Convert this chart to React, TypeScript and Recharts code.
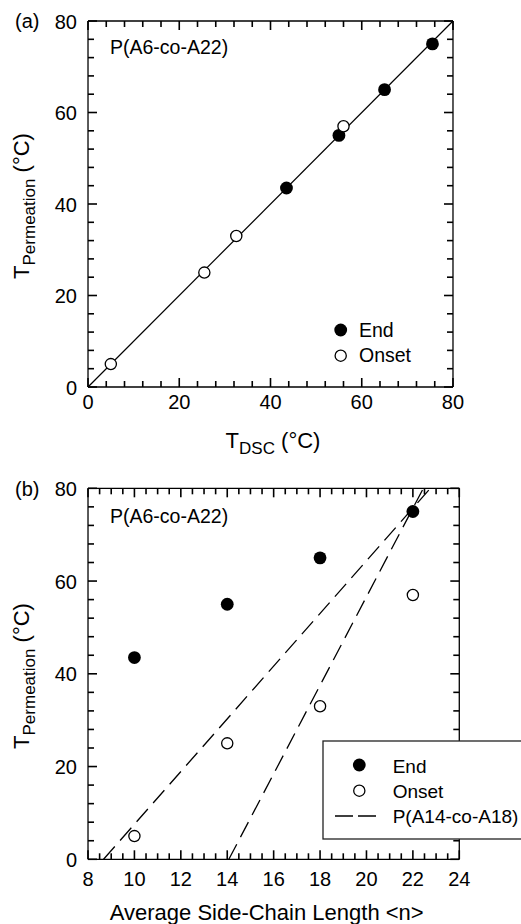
import React from "react";
import { ReferenceLine, Scatter, ScatterChart, XAxis, YAxis } from "recharts";

const FONT = "'Liberation Sans', Arial, Helvetica, sans-serif";

// panel (a): T_DSC vs T_Permeation
const endDsc = [43.5, 55, 65, 75.5];
const endPerm = [43.5, 55, 65, 75];
const onsetDsc = [5, 25.5, 32.5, 56];
const onsetPerm = [5, 25, 33, 57];

// panel (b): side-chain length
const sideChain = [10, 14, 18, 22];

const parityLine = [
  { x: 0, y: 0 },
  { x: 80, y: 80 },
];
const copolyLines = [
  [
    { x: 8.67, y: 0 },
    { x: 22.75, y: 80 },
  ],
  [
    { x: 14.07, y: 0 },
    { x: 22.45, y: 80 },
  ],
];

const tempTicks = [0, 20, 40, 60, 80];
const tempMinor = [0, 4, 8, 12, 16, 20, 24, 28, 32, 36, 40, 44, 48, 52, 56, 60, 64, 68, 72, 76, 80];
const nTicks = [8, 10, 12, 14, 16, 18, 20, 22, 24];
const nMinor = [
  8, 8.5, 9, 9.5, 10, 10.5, 11, 11.5, 12, 12.5, 13, 13.5, 14, 14.5, 15, 15.5, 16, 16.5, 17, 17.5, 18,
  18.5, 19, 19.5, 20, 20.5, 21, 21.5, 22, 22.5, 23, 23.5, 24,
];

const frame = { stroke: "#000", strokeWidth: 1.3 };
// axes need a non-zero size to draw; keep it tiny so they all sit on the frame
const THIN = 0.01;

const FilledDot = (p: any) => <circle cx={p.cx} cy={p.cy} r={6.4} fill="#000" />;
const OpenDot = (p: any) => (
  <circle cx={p.cx} cy={p.cy} r={5.6} fill="#fff" stroke="#000" strokeWidth={1.3} />
);

// tick labels only (bottom / left)
function makeLabel(side: string, majors: number[], offset: number) {
  return (p: any) => {
    const v = p.payload.value;
    if (!majors.includes(v)) return <g />;
    const x = Number(p.x);
    const y = Number(p.y);
    return side === "bottom" ? (
      <text x={x} y={y + offset} textAnchor="middle" fontSize={20} fontFamily={FONT} fill="#000">{v}</text>
    ) : (
      <text x={x - offset} y={y + 7.6} textAnchor="end" fontSize={20} fontFamily={FONT} fill="#000">{v}</text>
    );
  };
}

// inward tick marks on all four sides, laid out in data units through the chart scales
function tickMarks(xDom: number[], xMajor: number[], xMinor: number[], plotW: number, plotH: number) {
  const ux = (xDom[1] - xDom[0]) / plotW;
  const uy = 80 / plotH;
  const segs: { x: number; y: number }[][] = [];
  xMinor.forEach((v) => {
    const len = xMajor.includes(v) ? 9 : 6;
    segs.push([{ x: v, y: 0 }, { x: v, y: len * uy }]);
    segs.push([{ x: v, y: 80 }, { x: v, y: 80 - len * uy }]);
  });
  tempMinor.forEach((v) => {
    const len = tempTicks.includes(v) ? 9 : 6;
    segs.push([{ x: xDom[0], y: v }, { x: xDom[0] + len * ux, y: v }]);
    segs.push([{ x: xDom[1], y: v }, { x: xDom[1] - len * ux, y: v }]);
  });
  return segs.map((s, i) => (
    <ReferenceLine key={`tk${i}`} xAxisId="main" yAxisId="main" segment={s} stroke="#000"
      strokeWidth={1.6} ifOverflow="visible" />
  ));
}

function frameAxes(xDomain: number[], xMajor: number[], xLabelOffset: number) {
  return [
    <XAxis key="xb" xAxisId="main" dataKey="x" type="number" domain={xDomain}
      ticks={xMajor} interval={0} height={THIN} tickSize={0} tickMargin={0} tickLine={false}
      axisLine={frame} tick={makeLabel("bottom", xMajor, xLabelOffset)} />,
    <XAxis key="xt" xAxisId="top" orientation="top" type="number" domain={xDomain}
      ticks={xMajor} interval={0} height={THIN} tickLine={false} axisLine={frame} tick={false} />,
    <YAxis key="yl" yAxisId="main" dataKey="y" type="number" domain={[0, 80]}
      ticks={tempTicks} interval={0} width={THIN} tickSize={0} tickMargin={0} tickLine={false}
      axisLine={frame} tick={makeLabel("left", tempTicks, 11)} />,
    <YAxis key="yr" yAxisId="right" orientation="right" type="number" domain={[0, 80]}
      ticks={tempTicks} interval={0} width={THIN} tickLine={false} axisLine={frame} tick={false} />,
  ];
}

export default function App() {
  const endA = endDsc.map((x, i) => ({ x, y: endPerm[i] }));
  const onsetA = onsetDsc.map((x, i) => ({ x, y: onsetPerm[i] }));
  const endB = sideChain.map((x, i) => ({ x, y: endPerm[i] }));
  const onsetB = sideChain.map((x, i) => ({ x, y: onsetPerm[i] }));

  const marginA = { top: 21, right: 68, bottom: 75, left: 88 };
  const marginB = { top: 26.3, right: 61.7, bottom: 64.7, left: 88 };

  return (
    <div style={{ position: "absolute", left: 0, top: 0, width: 521, height: 924, background: "#fff", overflow: "hidden" }}>
      <div style={{ position: "absolute", left: 0, top: 0 }}>
        <ScatterChart width={521} height={462} margin={marginA}>
          {frameAxes([0, 80], tempTicks, 22.3)}
          {tickMarks([0, 80], tempTicks, tempMinor, 521 - 88 - 68, 462 - 21 - 75)}
          <ReferenceLine xAxisId="main" yAxisId="main" segment={parityLine} stroke="#000"
            strokeWidth={1.2} ifOverflow="visible" />
          <Scatter xAxisId="main" yAxisId="main" data={endA} shape={FilledDot} isAnimationActive={false} />
          <Scatter xAxisId="main" yAxisId="main" data={onsetA} shape={OpenDot} isAnimationActive={false} />
        </ScatterChart>
      </div>

      <div style={{ position: "absolute", left: 0, top: 462 }}>
        <ScatterChart width={521} height={462} margin={marginB}>
          {frameAxes([8, 24], nTicks, 27)}
          {tickMarks([8, 24], nTicks, nMinor, 521 - 88 - 61.7, 462 - 26.3 - 64.7)}
          {copolyLines.map((seg, i) => (
            <ReferenceLine key={i} xAxisId="main" yAxisId="main" segment={seg} stroke="#000"
              strokeWidth={1.3} strokeDasharray="17 8" ifOverflow="visible" />
          ))}
          <Scatter xAxisId="main" yAxisId="main" data={endB} shape={FilledDot} isAnimationActive={false} />
          <Scatter xAxisId="main" yAxisId="main" data={onsetB} shape={OpenDot} isAnimationActive={false} />
        </ScatterChart>
      </div>

      {/* titles, panel letters and legends */}
      <svg width={521} height={924} style={{ position: "absolute", left: 0, top: 0 }} fontFamily={FONT}>
        <text x={15} y={28} fontSize={20}>(a)</text>
        <text x={15} y={495.5} fontSize={20}>(b)</text>
        <text x={110} y={53.5} fontSize={19.5}>P(A6-co-A22)</text>
        <text x={110} y={522.5} fontSize={19.5}>P(A6-co-A22)</text>

        <text transform="translate(28.5,206) rotate(-90)" textAnchor="middle" fontSize={22}>
          T<tspan fontSize={17} dy={6}>Permeation</tspan>
          <tspan dy={-6}> (°C)</tspan>
        </text>
        <text transform="translate(28.5,676) rotate(-90)" textAnchor="middle" fontSize={22}>
          T<tspan fontSize={17} dy={6}>Permeation</tspan>
          <tspan dy={-6}> (°C)</tspan>
        </text>

        <text x={273} y={448} textAnchor="middle" fontSize={22}>
          T<tspan fontSize={17} dy={6}>DSC</tspan>
          <tspan dy={-6}> (°C)</tspan>
        </text>
        <text x={266.7} y={920} textAnchor="middle" fontSize={22}>
          Average Side-Chain Length &lt;n&gt;
        </text>

        {/* legend (a) */}
        <circle cx={340.7} cy={330} r={6.4} fill="#000" />
        <text x={359} y={336.7} fontSize={19.5}>End</text>
        <circle cx={340.7} cy={355.7} r={5.6} fill="#fff" stroke="#000" strokeWidth={1.3} />
        <text x={359} y={362.3} fontSize={19.5}>Onset</text>

        {/* legend (b) */}
        <rect x={323} y={741} width={220} height={98} fill="#fff" stroke="#222" strokeWidth={1.3} />
        <circle cx={359.3} cy={765} r={6.4} fill="#000" />
        <text x={392.7} y={772.7} fontSize={19}>End</text>
        <circle cx={359.3} cy={790.7} r={5.6} fill="#fff" stroke="#000" strokeWidth={1.3} />
        <text x={392.7} y={797.7} fontSize={19}>Onset</text>
        <line x1={335} y1={816} x2={376.7} y2={816} stroke="#000" strokeWidth={1.3} strokeDasharray="18 5" />
        <text x={392.7} y={822.7} fontSize={19}>P(A14-co-A18)</text>
      </svg>
    </div>
  );
}
